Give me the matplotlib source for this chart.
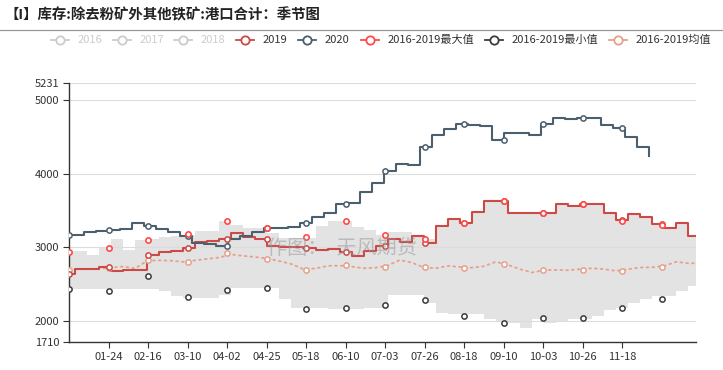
import numpy as np
import matplotlib
matplotlib.use("Agg")
import matplotlib.pyplot as plt
from matplotlib.lines import Line2D

plt.rcParams['font.family'] = ['Noto Sans CJK SC', 'DejaVu Sans']

title = "【I】库存:除去粉矿外其他铁矿:港口合计：季节图"
tick_labels = ["01-24", "02-16", "03-10", "04-02", "04-25", "05-18", "06-10",
               "07-03", "07-26", "08-18", "09-10", "10-03", "10-26", "11-18"]
y_ticks = [1710, 2000, 3000, 4000, 5000, 5231]

# weekly values: first one holds from 01-01, then a step every week
val_2019 = [2640, 2700, 2700, 2723, 2677, 2690, 2690, 2890, 2927, 2950,
            2990, 3064, 3086, 3109, 3191, 3132, 3105, 3018, 2996, 2996,
            2985, 2963, 2973, 2940, 2881, 2950, 3018, 3109, 3064, 3154,
            3055, 3282, 3382, 3327, 3473, 3632, 3632, 3464, 3464, 3464,
            3464, 3587, 3555, 3580, 3580, 3460, 3368, 3450, 3405, 3314,
            3255, 3327, 3154]
band_high = [2950, 2950, 2895, 2990, 3105, 2960, 3100, 3109, 3132, 3154,
             3170, 3223, 3223, 3360, 3300, 3255, 3255, 3190, 3130, 3125,
             3130, 3290, 3350, 3355, 3270, 3230, 3170, 3200, 3200, 3160,
             3110, 3282, 3382, 3327, 3473, 3632, 3632, 3464, 3464, 3464,
             3464, 3587, 3555, 3580, 3580, 3460, 3368, 3450, 3405, 3314,
             3255, 3327, 3154]
band_low = [2430, 2430, 2430, 2430, 2430, 2430, 2430, 2430, 2400, 2340,
            2313, 2313, 2313, 2345, 2450, 2450, 2450, 2450, 2290, 2177,
            2177, 2177, 2160, 2154, 2154, 2170, 2177, 2345, 2345, 2345,
            2245, 2100, 2086, 2086, 2086, 2018, 1990, 1973, 1905, 2018,
            1973, 1990, 2018, 2018, 2060, 2140, 2170, 2240, 2290, 2336,
            2336, 2404, 2472]
mean_line = [2686, 2700, 2700, 2705, 2720, 2736, 2710, 2815, 2820, 2815,
             2800, 2820, 2840, 2859, 2900, 2881, 2865, 2845, 2810, 2770,
             2700, 2710, 2745, 2748, 2735, 2713, 2720, 2750, 2823, 2790,
             2723, 2712, 2745, 2730, 2720, 2740, 2800, 2760, 2700, 2655,
             2686, 2690, 2686, 2700, 2713, 2700, 2677, 2700, 2722, 2725,
             2745, 2800, 2780]
val_2020 = [3170, 3205, 3215, 3236, 3245, 3331, 3290, 3245, 3200, 3154,
            3055, 3040, 3018, 3109, 3154, 3200, 3255, 3260, 3277, 3327,
            3405, 3464, 3580, 3600, 3746, 3869, 4041, 4132, 4120, 4360,
            4519, 4610, 4678, 4660, 4641, 4455, 4551, 4545, 4527, 4678,
            4760, 4746, 4750, 4760, 4664, 4615, 4497, 4360, 4232]

# symbols shown every 23 days (01-01, 01-24, ... 12-11)
max_marks = [2936, 2990, 3095, 3173, 3355, 3255, 3132, 3350,
             3164, 3109, 3327, 3632, 3460, 3587, 3359, 3305]
min_marks = [2436, 2404, 2609, 2327, 2417, 2441, 2163, 2177,
             2218, 2277, 2063, 1973, 2031, 2031, 2177, 2300]
mean_marks = [2686, 2713, 2823, 2800, 2914, 2845, 2691, 2754,
              2736, 2723, 2713, 2773, 2686, 2686, 2682, 2736]

c2019 = '#cc4946'
c2020 = '#4c5f6e'
cmax = '#ff4a4a'
cmin = '#3c3c3c'
cmean = '#e6a08b'
cgray = '#cccccc'

W, H = 723, 370
fig = plt.figure(figsize=(W / 100, H / 100), dpi=100)
ax = fig.add_axes([69 / W, 1 - 342 / H, 627 / W, 259 / H])

end_day = 365
x_week = np.r_[0, 3.5 + 7 * np.arange(len(val_2019) - 1)]
x_2020 = np.r_[0, 1.5 + 7 * np.arange(1, len(val_2020))]
xs = np.r_[x_week, end_day]
mark_days = np.arange(0, end_day, 23)
ms, mew = 3.8, 1.1


def ext(vals):
    return np.r_[vals, vals[-1]]


def lookup(xgrid, vals, days):
    idx = np.searchsorted(xgrid, days, side='right') - 1
    return np.asarray(vals)[idx]


# min-max band
ax.fill_between(xs, ext(band_low), ext(band_high), step='post',
                color='#e3e3e3', lw=0, zorder=1)
for v in [2000, 3000, 4000, 5000, 5231]:
    ax.axhline(v, color='#dcdcdc', lw=0.8, zorder=1.5)

# mean
ax.plot(xs, ext(mean_line), color=cmean, lw=1.3, ls=(0, (1, 2.2)),
        dash_capstyle='round', zorder=2)
ax.plot(mark_days, mean_marks, ls='none', marker='o', ms=ms, mfc='white',
        mec=cmean, mew=mew, zorder=4)

# 2019 and 2020
ax.step(xs, ext(val_2019), where='post', color=c2019, lw=1.5, zorder=3)
ax.plot(mark_days, lookup(x_week, val_2019, mark_days), ls='none', marker='o',
        ms=ms, mfc='white', mec=c2019, mew=mew, zorder=4)
ax.step(x_2020, val_2020, where='post', color=c2020, lw=1.5, zorder=3)
d20 = mark_days[mark_days <= x_2020[-1]]
ax.plot(d20, lookup(x_2020, val_2020, d20), ls='none', marker='o',
        ms=ms, mfc='white', mec=c2020, mew=mew, zorder=4)

# max / min symbols
ax.plot(mark_days, max_marks, ls='none', marker='o', ms=ms, mfc='white',
        mec=cmax, mew=mew + 0.1, zorder=4)
ax.plot(mark_days, min_marks, ls='none', marker='o', ms=ms, mfc='white',
        mec=cmin, mew=mew, zorder=4)

ax.text(0.435, 0.36, "作图：  天风期货", transform=ax.transAxes, fontsize=14.5,
        color='#9a9a9a', alpha=0.55, ha='center', va='center', zorder=5)

ax.set_xlim(0, end_day)
ax.set_ylim(1710, 5231)
ax.set_xticks(mark_days[1:len(tick_labels) + 1])
ax.set_xticklabels(tick_labels)
ax.set_yticks(y_ticks)
ax.tick_params(labelsize=8, colors='#333333', length=4, width=0.8, pad=3)
for s in ['top', 'right']:
    ax.spines[s].set_visible(False)
for s in ['left', 'bottom']:
    ax.spines[s].set_color('#333333')
    ax.spines[s].set_linewidth(1)

# title and separator
fig.text(5 / W, 1 - 15 / H, title, fontsize=10.4, fontweight='bold',
         color='#222222', va='center')
fig.add_artist(Line2D([0, 1], [1 - 29.5 / H] * 2, transform=fig.transFigure,
                      color='#999999', lw=0.9))

# legend
legend_items = [("2016", cgray, cgray), ("2017", cgray, cgray),
                ("2018", cgray, cgray), ("2019", c2019, '#333333'),
                ("2020", c2020, '#333333'),
                ("2016-2019最大值", cmax, '#333333'),
                ("2016-2019最小值", cmin, '#333333'),
                ("2016-2019均值", cmean, '#333333')]
icon_x = [60, 122, 183, 245, 307, 370, 494, 618]
ly = 1 - 40 / H
for (label, col, tcol), cx in zip(legend_items, icon_x):
    fig.add_artist(Line2D([(cx - 9) / W, (cx + 9) / W], [ly, ly],
                          transform=fig.transFigure, color=col, lw=1.3))
    fig.add_artist(Line2D([cx / W], [ly], transform=fig.transFigure,
                          marker='o', ms=6, mfc='white', mec=col, mew=1.3))
    fig.text((cx + 18) / W, ly, label, fontsize=8, color=tcol, va='center')

fig.savefig("out.png", dpi=100)
